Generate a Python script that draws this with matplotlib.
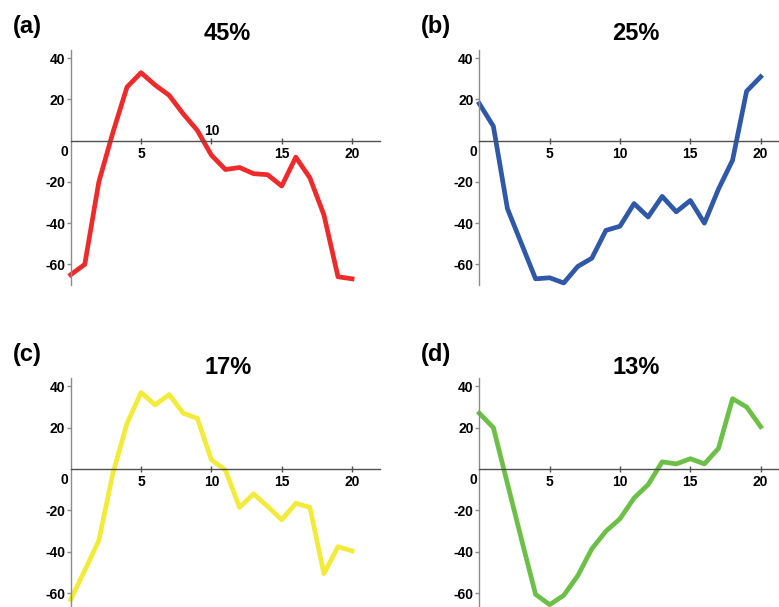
import numpy as np
import matplotlib
matplotlib.use("Agg")
import matplotlib.pyplot as plt

plt.rcParams['font.family'] = ['Liberation Sans', 'DejaVu Sans']
plt.rcParams['font.weight'] = 'bold'

x = list(range(21))

# component curves
comp_a = [-65, -60, -20, 4, 26, 33, 27, 22, 13, 5, -7, -14, -13, -16, -16.5,
          -22, -8, -18, -36, -66, -67]
comp_b = [18, 7, -33, -50, -67, -66.5, -69, -61, -57, -43.5, -41.5, -30.5,
          -37, -27, -34.5, -29, -40, -23.5, -9.5, 24, 31]
comp_c = [-63, -49, -34.5, -2, 22, 37, 31, 36, 27, 24.5, 4.5, -0.5, -18.5,
          -12, -18, -24.5, -16.5, -18.5, -50.5, -37.5, -39.5]
comp_d = [27, 20, -7, -34, -60.5, -65.5, -61, -51.5, -38.5, -30, -24, -14,
          -7.5, 3.5, 2.5, 5, 2.5, 10, 34, 30, 20.5]

titles = ['45%', '25%', '17%', '13%']
panel_tags = ['(a)', '(b)', '(c)', '(d)']
colors = ['#ee2a2a', '#2f58a8', '#f3eb3a', '#6cbf47']
series = [comp_a, comp_b, comp_c, comp_d]

W, H = 779, 607
fig = plt.figure(figsize=(W / 100, H / 100), dpi=100)

# axes boxes in pixels: left, top, bottom, title y, tag y
boxes = [(70.7, 50, 285, 33, 27), (479.3, 50, 285, 33, 27),
         (70.7, 378, 614, 367, 355), (479.3, 378, 614, 367, 355)]
ax_w = 309.5
fs = 10

for k, (vals, col) in enumerate(zip(series, colors)):
    left, top, bot, ty, gy = boxes[k]
    ax = fig.add_axes([left / W, 1 - bot / H, ax_w / W, (bot - top) / H])
    ax.plot(x, vals, color=col, lw=3.4, solid_joinstyle='round', clip_on=False)
    ax.set_xlim(0, 22)
    ax.set_ylim(-70, 44)

    ax.spines['top'].set_visible(False)
    ax.spines['right'].set_visible(False)
    ax.spines['left'].set_position(('data', 0))
    ax.spines['bottom'].set_position(('data', 0))
    ax.spines['left'].set_color('#8c8c8c')
    ax.spines['bottom'].set_color('#505050')
    ax.spines['left'].set_linewidth(1.0)
    ax.spines['bottom'].set_linewidth(1.0)

    ax.set_yticks([-60, -40, -20, 20, 40])
    ax.set_yticklabels(['-60', '-40', '-20', '20', '40'])
    xt = [5, 10, 15, 20]
    ax.set_xticks(xt)
    if k == 0:
        ax.set_xticklabels(['5', '', '15', '20'])
        ax.annotate('10', xy=(10, 0), xytext=(0, 10), textcoords='offset pixels',
                    ha='center', va='center', fontsize=fs, fontweight='bold')
    else:
        ax.set_xticklabels([str(v) for v in xt])
    ax.annotate('0', xy=(0, 0), xytext=(-6, -11), textcoords='offset pixels',
                ha='center', va='center', fontsize=fs, fontweight='bold')

    ax.tick_params(axis='x', direction='inout', length=5, width=1,
                   color='#505050', pad=2, labelsize=fs)
    ax.tick_params(axis='y', direction='out', length=3, width=1,
                   color='#8c8c8c', pad=1, labelsize=fs)
    for lab in ax.get_xticklabels() + ax.get_yticklabels():
        lab.set_fontweight('bold')

    fig.text((left + 157) / W, 1 - ty / H, titles[k],
             fontsize=17, fontweight='bold', ha='center', va='center')
    fig.text((left - 58) / W, 1 - gy / H, panel_tags[k],
             fontsize=17, fontweight='bold', ha='left', va='center')

fig.savefig('out.png', dpi=100)
